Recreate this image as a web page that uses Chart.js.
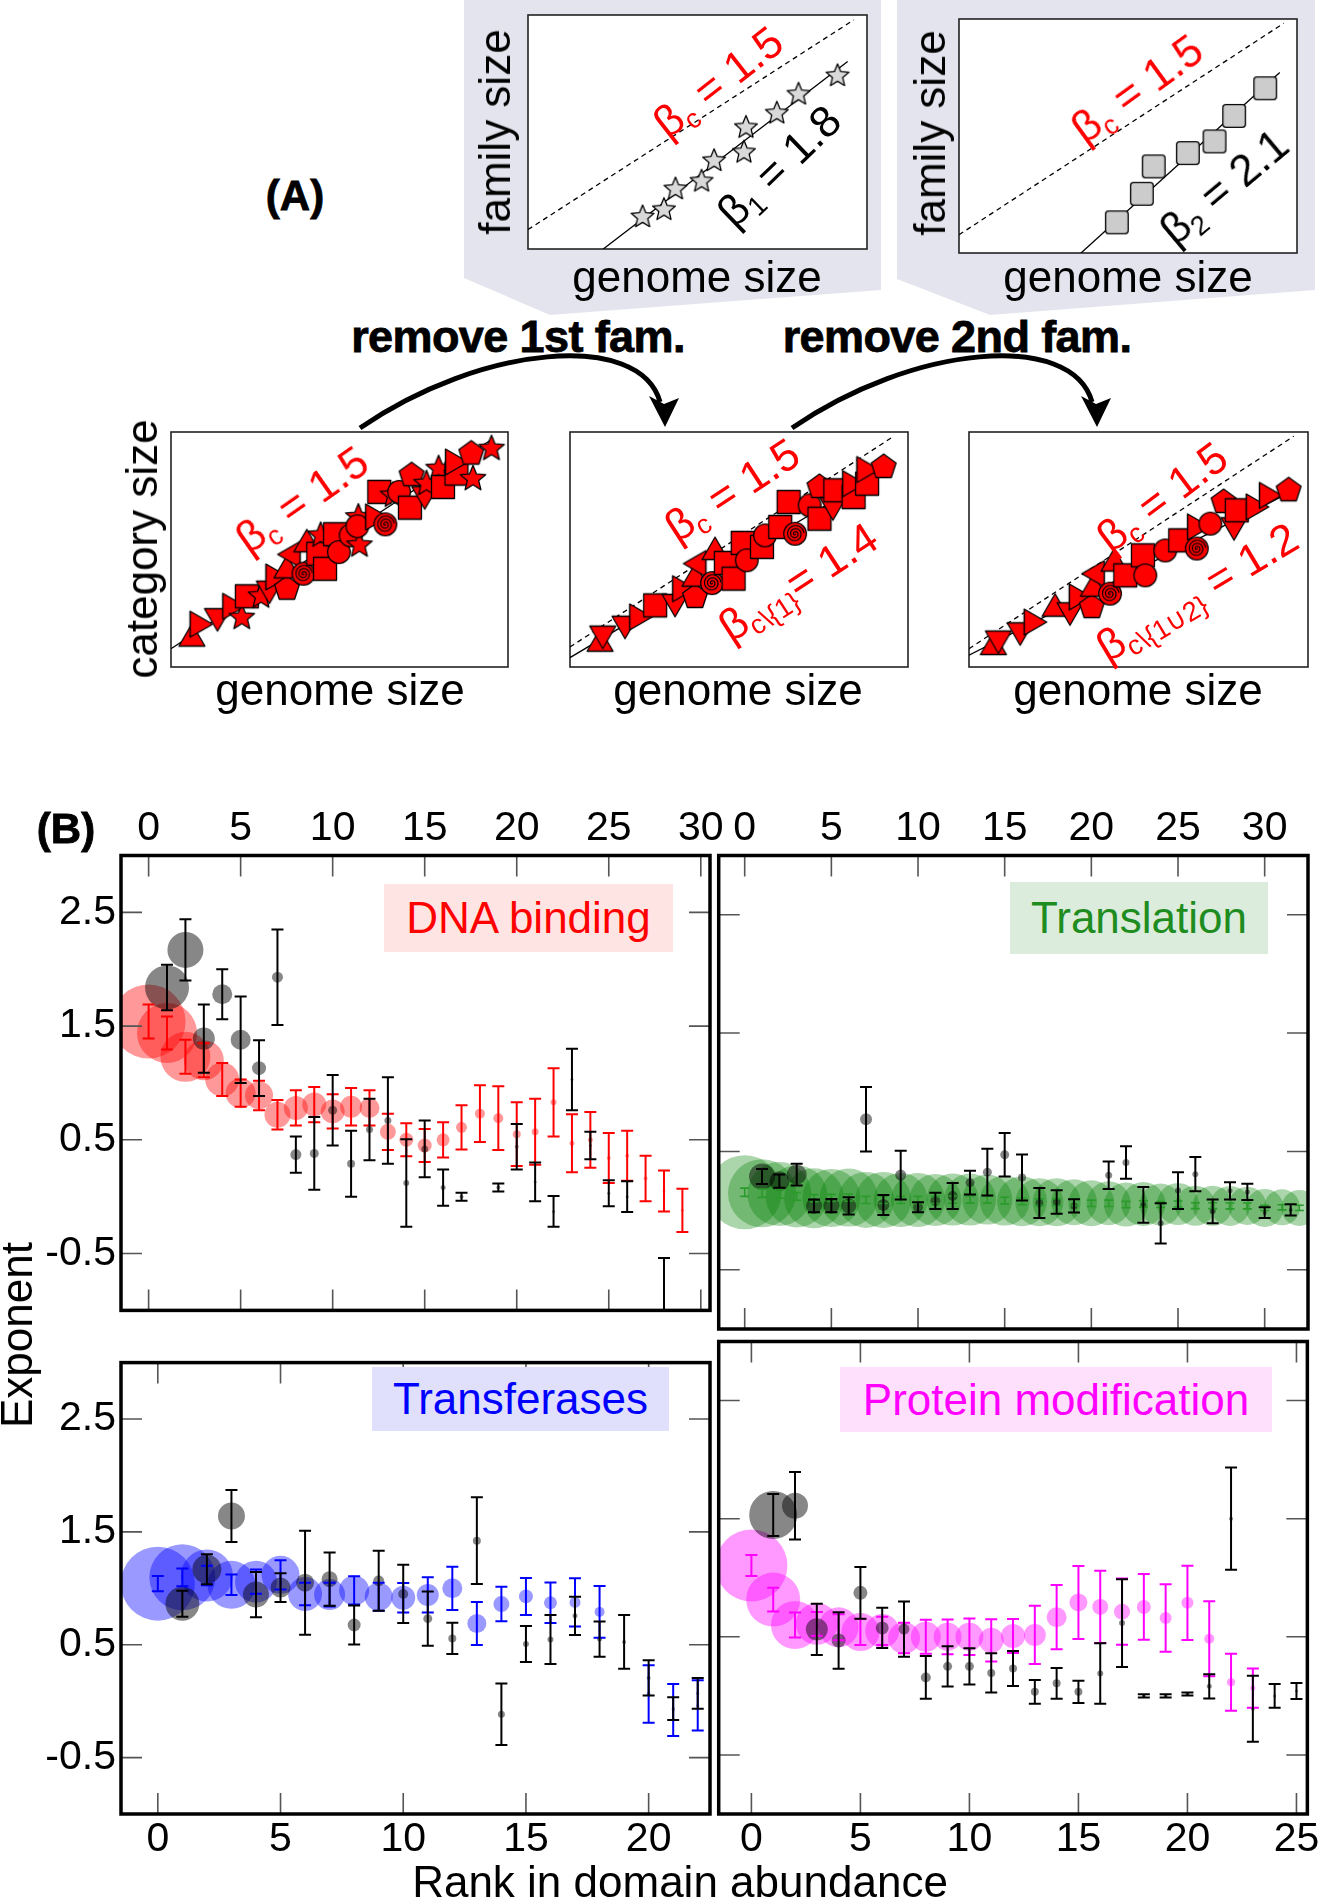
<!DOCTYPE html>
<html>
<head>
<meta charset="utf-8">
<script src="https://cdn.jsdelivr.net/npm/chart.js@4.4.1/dist/chart.umd.min.js"></script>
<style>
  body { margin: 0; background: #fff; }
  #page { position: relative; width: 1321px; height: 1900px; overflow: hidden;
          font-family: "Liberation Sans", Arial, sans-serif; }
  canvas { position: absolute; }
  .t { position: absolute; transform: translate(-50%, -50%); white-space: nowrap;
       line-height: 1; font-size: 44px; color: #000; }
  .b { font-weight: bold; }
  .heavy { font-weight: bold; -webkit-text-stroke: 0.8px #000; }
  .red { color: #ff0000; }
  sub { font-size: 0.62em; vertical-align: -0.28em; line-height: 0; }
  .box { position: absolute; display: flex; align-items: center; justify-content: center;
         font-size: 44px; line-height: 1; white-space: nowrap; }
</style>
</head>
<body>
<div id="page">
  <svg width="1321" height="1900" style="position:absolute;left:0;top:0">
    <polygon points="464,0 881,0 881,290 550,315 464,278" fill="#e4e4ee"/>
    <polygon points="897,0 1315,0 1315,290 990,315 897,279" fill="#e4e4ee"/>
    <path d="M360,428 C480,345 640,330 660,402" stroke="#000" stroke-width="5" fill="none"/>
    <polygon points="665,427 649,396 664,404 679,398" fill="#000"/>
    <path d="M792,428 C912,345 1072,330 1092,402" stroke="#000" stroke-width="5" fill="none"/>
    <polygon points="1097,427 1081,396 1096,404 1111,398" fill="#000"/>
  </svg>

  <canvas id="c1"></canvas><canvas id="c2"></canvas>
  <canvas id="p1"></canvas><canvas id="p2"></canvas><canvas id="p3"></canvas>
  <canvas id="bTL"></canvas><canvas id="bTR"></canvas>
  <canvas id="bBL"></canvas><canvas id="bBR"></canvas>

  <!-- panel A text -->
  <div class="t heavy" style="left:295px;top:196px;font-size:42px">(A)</div>
  <div class="t" style="left:495px;top:132px;transform:translate(-50%,-50%) rotate(-90deg)">family size</div>
  <div class="t" style="left:697px;top:277px">genome size</div>
  <div class="t red" style="left:718px;top:82px;transform:translate(-50%,-50%) rotate(-38deg)">β<sub>c</sub> = 1.5</div>
  <div class="t" style="left:779px;top:166px;transform:translate(-50%,-50%) rotate(-44deg)">β<sub>1</sub> = 1.8</div>
  <div class="t" style="left:930px;top:133px;transform:translate(-50%,-50%) rotate(-90deg)">family size</div>
  <div class="t" style="left:1128px;top:277px">genome size</div>
  <div class="t red" style="left:1137px;top:89px;transform:translate(-50%,-50%) rotate(-36deg)">β<sub>c</sub> = 1.5</div>
  <div class="t" style="left:1224px;top:187px;transform:translate(-50%,-50%) rotate(-40deg)">β<sub>2</sub> = 2.1</div>
  <div class="t heavy" style="left:518px;top:336px;font-size:45px;letter-spacing:-0.6px">remove 1st fam.</div>
  <div class="t heavy" style="left:957px;top:336px;font-size:45px;letter-spacing:-0.6px">remove 2nd fam.</div>
  <div class="t" style="left:142px;top:549px;transform:translate(-50%,-50%) rotate(-90deg)">category size</div>
  <div class="t" style="left:340px;top:690px">genome size</div>
  <div class="t red" style="left:302px;top:500px;transform:translate(-50%,-50%) rotate(-35deg)">β<sub>c</sub> = 1.5</div>
  <div class="t" style="left:738px;top:690px">genome size</div>
  <div class="t red" style="left:732px;top:490px;transform:translate(-50%,-50%) rotate(-33deg)">β<sub>c</sub> = 1.5</div>
  <div class="t red" style="left:798px;top:582px;transform:translate(-50%,-50%) rotate(-33deg)">β<sub>c\{1}</sub>= 1.4</div>
  <div class="t" style="left:1138px;top:690px">genome size</div>
  <div class="t red" style="left:1162px;top:497px;transform:translate(-50%,-50%) rotate(-37deg)">β<sub>c</sub> = 1.5</div>
  <div class="t red" style="left:1197px;top:592px;transform:translate(-50%,-50%) rotate(-31deg)">β<sub>c\{1∪2}</sub> = 1.2</div>

  <!-- panel B text -->
  <div class="t heavy" style="left:66px;top:829px;font-size:42px">(B)</div>
  <div class="t" style="left:17px;top:1335px;transform:translate(-50%,-50%) rotate(-90deg)">Exponent</div>
  <div class="t" style="left:680px;top:1882px">Rank in domain abundance</div>
  <div class="box" style="left:384px;top:884px;width:289px;height:68px;background:#ffe4e4;color:#ff0000">DNA binding</div>
  <div class="box" style="left:1010px;top:882px;width:258px;height:72px;background:#dcecdc;color:#1e8c1e">Translation</div>
  <div class="box" style="left:372px;top:1367px;width:297px;height:64px;background:#e0e0fc;color:#0000ff">Transferases</div>
  <div class="box" style="left:840px;top:1367px;width:432px;height:65px;background:#ffe0fc;color:#ff00ff">Protein modification</div>
</div>

<script>
// ---------- panel B: exponent vs rank in domain abundance ----------
const yLabelled = [2.5, 1.5, 0.5, -0.5];

// DNA binding: category (red) and single families (black)
const dnaRank = [0,1,2,3,4,5,6,7,8,9,10,11,12,13,14,15,16,17,18,19,20,21,22,23,24,25,26,27,28,29];
const dnaExp  = [1.54,1.44,1.23,1.20,1.03,0.91,0.89,0.72,0.78,0.81,0.75,0.79,0.78,0.57,0.50,0.45,0.50,0.61,0.73,0.69,0.55,0.57,0.83,0.47,0.50,0.34,0.36,0.16,0.05,-0.12];
const dnaErr  = [0.15,0.145,0.15,0.15,0.145,0.12,0.13,0.13,0.155,0.155,0.15,0.165,0.155,0.16,0.145,0.145,0.155,0.195,0.25,0.28,0.28,0.29,0.30,0.255,0.245,0.22,0.22,0.20,0.18,0.19];
const dnaSize = [37,30,25,20,17,15,14,13,12,12,12,11,10,8,7,7,6.5,5.5,5,5,4,3.5,3,2.5,2.5,2,2,2,1.5,1.5];
const dnaFamRank = [1,2,3,4,5,6,7,8,9,10,11,12,13,14,15,16,17,19,20,21,22,23,24,25,26,28];
const dnaFamExp  = [1.84,2.17,1.39,1.78,1.38,1.13,1.93,0.37,0.38,0.76,0.29,0.59,0.67,0.12,0.42,0.08,0.00,0.08,0.44,0.13,-0.13,1.03,0.45,0.03,0.00,-0.82];
const dnaFamErr  = [0.20,0.27,0.30,0.22,0.38,0.245,0.42,0.16,0.32,0.31,0.29,0.27,0.38,0.385,0.25,0.16,0.035,0.035,0.20,0.17,0.135,0.27,0.12,0.115,0.135,0.28];
const dnaFamSize = [22,18,11,10,10,7,5.5,5.5,4.5,4.5,4,3.5,3.5,3,3.5,2.5,2,2,2,1.5,1.5,1.5,1.5,1.5,1.5,1];

// Translation
const trnRank = [0,1,2,3,4,5,6,7,8,9,10,11,12,13,14,15,16,17,18,19,20,21,22,23,24,25,26,27,28,29,30,31,32];
const trnExp  = [0.155,0.147,0.141,0.12,0.105,0.107,0.11,0.09,0.09,0.09,0.09,0.09,0.093,0.093,0.093,0.085,0.079,0.071,0.071,0.071,0.062,0.062,0.051,0.056,0.051,0.056,0.042,0.042,0.04,0.04,0.023,0.028,0.023];
const trnErr  = [0.035,0.035,0.035,0.033,0.03,0.03,0.03,0.03,0.03,0.03,0.03,0.03,0.03,0.03,0.03,0.028,0.028,0.028,0.028,0.028,0.027,0.027,0.027,0.027,0.025,0.025,0.025,0.025,0.025,0.025,0.022,0.022,0.022];
const trnSize = [37,34,32,31,30,29,29,28,28,27,27,26,26,26,25,25,25,24,24,23,23,22,22,22,21,21,20,20,20,19,19,18,18];
const trnFamRank = [1,2,3,4,5,6,7,8,9,10,11,12,13,14,15,16,17,18,19,21,22,23,24,25,26,27,28,29,30,31.5];
const trnFamExp  = [0.288,0.249,0.305,0.04,0.042,0.04,0.772,0.048,0.30,0.028,0.082,0.124,0.237,0.325,0.472,0.28,0.065,0.073,0.04,0.299,0.407,0.048,-0.107,0.169,0.308,-0.006,0.167,0.158,-0.017,0.006];
const trnFamErr  = [0.064,0.056,0.092,0.054,0.056,0.073,0.272,0.085,0.205,0.042,0.069,0.11,0.10,0.198,0.184,0.195,0.127,0.10,0.056,0.117,0.137,0.151,0.17,0.155,0.144,0.10,0.073,0.068,0.045,0.047];
const trnFamSize = [13,10,10,8,8,7.5,6,6,5.5,5,5,5,4.5,4.5,4.5,4,4,4,3.5,3.5,3.5,3,3,3,3,3,2.5,2.5,2,2];

// Transferases
const tfRank = [0,1,2,3,4,5,6,7,8,9,10,11,12,13,14,15,16,17,18,20,21,22];
const tfExp  = [1.041,1.097,1.113,1.031,1.059,1.119,0.95,0.944,0.981,0.925,0.916,0.941,1.0,0.688,0.86,0.928,0.872,0.875,0.791,0.063,-0.078,-0.038];
const tfErr  = [0.067,0.078,0.086,0.091,0.108,0.13,0.10,0.106,0.125,0.125,0.13,0.156,0.192,0.19,0.153,0.164,0.18,0.214,0.23,0.255,0.23,0.223];
const tfSize = [37,33,26,24,21,19,17,15.5,15,14,12,11,10,9.5,8,7,6.5,5.5,5,2,1.5,1.5];
const tfFamRank = [1,2,3,4,5,6,7,8,9,10,11,12,13,14,15,16,17,18,19,20,21,22];
const tfFamExp  = [0.863,1.169,1.641,0.944,1.006,1.05,1.081,0.675,1.066,0.95,0.731,0.556,1.422,-0.116,0.506,0.547,0.756,0.55,0.525,0.206,-0.066,0.069];
const tfFamErr  = [0.116,0.133,0.231,0.2,0.128,0.461,0.236,0.172,0.266,0.258,0.24,0.139,0.384,0.272,0.16,0.217,0.169,0.156,0.239,0.156,0.10,0.136];
const tfFamSize = [17,14.5,13.5,13,10,9,8,6.5,5.5,5,4.5,4,4,3.5,3,3,2.5,2.5,2,2,1.5,1.5];

// Protein modification
const pmRank = [0,1,2,3,4,5,6,7,8,9,10,11,12,13,14,15,16,17,18,19,20,21,22,23];
const pmExp  = [1.103,0.815,0.60,0.61,0.58,0.54,0.55,0.49,0.50,0.50,0.50,0.47,0.506,0.516,0.666,0.791,0.753,0.713,0.753,0.659,0.788,0.484,0.116,0.066];
const pmErr  = [0.089,0.10,0.106,0.10,0.11,0.11,0.12,0.13,0.144,0.147,0.155,0.178,0.144,0.247,0.272,0.309,0.306,0.281,0.278,0.286,0.314,0.317,0.241,0.166];
const pmSize = [36,27,24,21,20,19,17,16,15,14,14,12.5,12,11,10,9,8,8,7,6,6,5,4,2.5];
const pmFamRank = [1,2,3,4,5,6,7,8,9,10,11,12,13,14,15,16,17,18,19,20,21,22,23,24,25];
const pmFamExp  = [1.531,1.609,0.563,0.469,0.872,0.575,0.566,0.156,0.25,0.25,0.194,0.231,0.034,0.106,0.034,0.19,0.616,0.0,0.0,0.016,0.081,1.5,-0.109,0.0,0.041];
const pmFamErr  = [0.178,0.286,0.217,0.239,0.22,0.17,0.234,0.181,0.17,0.153,0.166,0.148,0.10,0.131,0.094,0.256,0.372,0.013,0.013,0.013,0.103,0.433,0.28,0.10,0.067];
const pmFamSize = [24,13,11,7,7,6.5,5.5,5,4.5,4.5,4,4,4,4,4,3,3,2,2,2,2.5,2,2,1.5,1.5];

// ---------- panel A: schematic scaling plots (axes 0..100) ----------
const c1X = [33.8,40.1,43.5,51.2,54.9,63.7,64.3,73.4,79.8,91.3];
const c1Y = [13.7,16.8,25.6,28.9,37.7,41.3,51.9,58.0,66.1,74.0];
const c1Dashed = [0, 8.3, 96.1, 97.9];
const c1Fit = [22.2, 0, 94.3, 80.1];

const c2X = [46.7,54.1,57.6,67.7,75.6,81.4,90.6];
const c2Y = [13.1,25.3,37.0,42.7,47.7,58.6,70.4];
const c2Dashed = [0, 7.8, 96.1, 98.2];
const c2Fit = [36.1, 0, 94.9, 77.1];

const p1X = [6.2,7.9,13.8,17.6,21.0,22.5,26.7,29.2,30.4,34.4,34.4,36.1,39.3,40.3,43.7,44.4,45.7,48.7,49.8,53.3,55.6,55.9,55.3,60.0,63.6,61.8,65.9,67.7,70.9,71.4,75.3,75.8,79.4,80.7,84.7,83.7,89.1,89.6,95.1];
const p1Y = [12.1,18.2,21.6,25.8,21.0,30.1,30.1,33.3,38.3,33.3,41.1,47.9,39.7,52.2,48.2,56.0,41.8,56.5,48.9,56.0,63.8,51.8,59.9,63.8,60.7,74.5,73.0,74.5,67.8,81.6,73.5,78.0,84.4,76.6,82.3,87.2,90.8,80.1,92.9];
const p1Shape = ['triU','triR','triD','triR','star','rect','star','triD','triR','pent','triU','triL','spiral','triU','rect','star','rect','rect','circle','circle','star','star','circle','triR','spiral','rect','star','circle','rect','pent','triD','star','star','rect','rect','triR','pent','star','star'];
const p1Fit = [0, 7.8, 95.6, 97.2];

const p2X = [8.9,9.7,16.3,19.9,25.2,31.1,32.6,37.0,37.0,38.0,42.0,42.9,46.1,48.4,51.1,52.3,56.8,57.7,62.2,66.6,64.7,70.9,73.8,73.8,77.8,78.5,83.9,82.9,87.9,87.1,92.8];
const p2Y = [9.9,14.2,18.4,21.3,26.2,27.7,33.3,29.8,37.6,44.0,35.7,48.9,44.3,37.6,52.8,45.4,51.1,56.0,59.6,56.7,70.2,68.8,63.1,76.6,68.8,75.2,72.3,78.0,78.0,84.0,85.1];
const p2Shape = ['triU','triD','triD','triR','rect','triD','triR','pent','triU','triL','spiral','triU','rect','rect','rect','circle','rect','circle','rect','spiral','rect','circle','rect','pent','triD','rect','rect','triR','rect','triR','pent'];
const p2Dashed = [0, 8.5, 95.8, 98.2];
const p2Fit = [0, 4.0, 94.8, 85.1];

const p3X = [7.2,8.7,15.1,18.5,25.4,29.8,31.8,36.2,36.7,37.7,41.6,42.8,46.1,51.3,52.0,57.9,62.3,67.2,66.7,71.2,75.1,78.2,79.0,84.0,87.9,94.3];
const p3Y = [8.5,12.1,15.6,19.1,24.8,24.1,29.8,25.5,33.3,39.7,31.2,44.0,39.0,47.5,39.0,49.6,53.9,50.4,59.6,61.0,70.2,60.3,66.7,68.1,73.0,75.2];
const p3Shape = ['triU','triD','triD','triR','triU','triD','triR','pent','triU','triL','spiral','triU','rect','rect','circle','circle','rect','spiral','triR','circle','pent','triD','rect','triR','triR','pent'];
const p3Dashed = [0, 7.8, 95.8, 98.2];
const p3Fit = [0, 5.0, 96.8, 75.9];

// ---------- marker glyphs ----------
function glyph(size, draw) {
    const c = document.createElement('canvas');
    c.width = size; c.height = size;
    const g = c.getContext('2d');
    g.translate(size / 2, size / 2);
    g.lineWidth = 1.3; g.strokeStyle = '#000'; g.lineJoin = 'round';
    draw(g);
    return c;
}
function starPath(g, R, r) {
    g.beginPath();
    for (let k = 0; k < 10; k++) {
        const rr = k % 2 ? r : R, a = -Math.PI / 2 + k * Math.PI / 5;
        g.lineTo(rr * Math.cos(a), rr * Math.sin(a));
    }
    g.closePath();
}
function polyPath(g, n, R) {
    g.beginPath();
    for (let k = 0; k < n; k++) {
        const a = -Math.PI / 2 + k * 2 * Math.PI / n;
        g.lineTo(R * Math.cos(a), R * Math.sin(a));
    }
    g.closePath();
}
const RED = '#ff0000';
const glyphs = {
    star: glyph(32, g => { starPath(g, 13.5, 6); g.fillStyle = RED; g.fill(); g.stroke(); }),
    greyStar: glyph(30, g => { starPath(g, 12, 5.4); g.fillStyle = '#d9d9d9'; g.fill(); g.stroke(); }),
    rect: glyph(28, g => { g.beginPath(); g.rect(-11.5, -11.5, 23, 23); g.fillStyle = RED; g.fill(); g.stroke(); }),
    greySquare: glyph(28, g => { g.beginPath(); g.roundRect(-11.3, -11.3, 22.6, 22.6, 3); g.fillStyle = '#cccccc'; g.fill(); g.stroke(); }),
    circle: glyph(28, g => { g.beginPath(); g.arc(0, 0, 11.3, 0, 2 * Math.PI); g.fillStyle = RED; g.fill(); g.stroke(); }),
    pent: glyph(30, g => { polyPath(g, 5, 13); g.fillStyle = RED; g.fill(); g.stroke(); }),
    tri: glyph(34, g => { polyPath(g, 3, 15); g.fillStyle = RED; g.fill(); g.stroke(); }),
    spiral: glyph(28, g => {
        g.beginPath(); g.arc(0, 0, 11.3, 0, 2 * Math.PI); g.fillStyle = RED; g.fill(); g.stroke();
        g.beginPath();
        for (let t = 0; t <= 6 * Math.PI; t += 0.15) {
            const rr = t / (6 * Math.PI) * 9;
            g.lineTo(rr * Math.cos(t), rr * Math.sin(t));
        }
        g.lineWidth = 1.2; g.stroke();
    }),
};
const shapeGlyph = { triU: 'tri', triR: 'tri', triD: 'tri', triL: 'tri' };
const shapeTurn = { triU: 0, triR: 90, triD: 180, triL: 270 };

// ---------- plugins ----------
const schematicFrame = {
    id: 'schematicFrame',
    beforeDatasetsDraw(chart) {
        const { ctx, chartArea: a } = chart;
        ctx.save();
        ctx.fillStyle = '#fff';
        ctx.fillRect(a.left, a.top, a.width, a.height);
        ctx.strokeStyle = '#222'; ctx.lineWidth = 1.6;
        ctx.strokeRect(a.left, a.top, a.width, a.height);
        ctx.restore();
    },
};

const errorBars = {
    id: 'errorBars',
    afterDatasetsDraw(chart) {
        const { ctx, chartArea: a, scales: { y } } = chart;
        ctx.save();
        ctx.beginPath(); ctx.rect(a.left, a.top, a.width, a.height); ctx.clip();
        chart.data.datasets.forEach((ds, i) => {
            if (!ds.errors) return;
            const meta = chart.getDatasetMeta(i);
            ctx.strokeStyle = ds.errColor; ctx.lineWidth = ds.errWidth;
            meta.data.forEach((pt, j) => {
                const v = ds.data[j].y, e = ds.errors[j], hw = ds.capHalf;
                const y1 = y.getPixelForValue(v - e), y2 = y.getPixelForValue(v + e);
                ctx.beginPath();
                ctx.moveTo(pt.x, y1); ctx.lineTo(pt.x, y2);
                ctx.moveTo(pt.x - hw, y1); ctx.lineTo(pt.x + hw, y1);
                ctx.moveTo(pt.x - hw, y2); ctx.lineTo(pt.x + hw, y2);
                ctx.stroke();
            });
        });
        ctx.restore();
    },
};

const frameTicks = {
    id: 'frameTicks',
    afterDraw(chart) {
        const { ctx, chartArea: a, scales: { x, y } } = chart;
        ctx.save();
        ctx.strokeStyle = '#555'; ctx.lineWidth = 1.6;
        ctx.beginPath();
        x.ticks.forEach(t => {
            if (t.value <= x.min || t.value >= x.max) return;
            const px = x.getPixelForValue(t.value);
            ctx.moveTo(px, a.top); ctx.lineTo(px, a.top + 21);
            ctx.moveTo(px, a.bottom); ctx.lineTo(px, a.bottom - 21);
        });
        y.ticks.forEach(t => {
            if (t.value <= y.min || t.value >= y.max) return;
            const py = y.getPixelForValue(t.value);
            ctx.moveTo(a.left, py); ctx.lineTo(a.left + 21, py);
            ctx.moveTo(a.right, py); ctx.lineTo(a.right - 21, py);
        });
        ctx.stroke();
        ctx.strokeStyle = '#000'; ctx.lineWidth = 3.5;
        ctx.strokeRect(a.left, a.top, a.width, a.height);
        ctx.restore();
    },
};

// ---------- builders ----------
function place(id, left, top, w, h) {
    const c = document.getElementById(id);
    c.width = w; c.height = h;
    c.style.left = left + 'px'; c.style.top = top + 'px';
    return c;
}

function segment(pts, dashed) {
    return {
        type: 'line',
        data: [{ x: pts[0], y: pts[1] }, { x: pts[2], y: pts[3] }],
        borderColor: '#000', borderWidth: 1.3, borderDash: dashed ? [5, 4] : [],
        pointRadius: 0, order: 2,
    };
}

function schematic(id, frame, xs, ys, shapes, fit, dashed) {
    const M = 16;
    const cv = place(id, frame[0] - M, frame[1] - M, frame[2] + 2 * M, frame[3] + 2 * M);
    const datasets = [];
    if (dashed) datasets.push(segment(dashed, true));
    datasets.push(segment(fit, false));
    datasets.push({
        type: 'scatter',
        data: xs.map((x, i) => ({ x, y: ys[i] })),
        pointStyle: shapes.map(s => glyphs[shapeGlyph[s] || s]),
        pointRotation: shapes.map(s => shapeTurn[s] || 0),
        pointRadius: 10,
        clip: false,
        order: 1,
    });
    new Chart(cv, {
        type: 'scatter',
        data: { datasets },
        options: {
            responsive: false, animation: false, events: [],
            layout: { padding: M, autoPadding: false },
            plugins: { legend: { display: false }, tooltip: { enabled: false } },
            scales: {
                x: { display: false, min: 0, max: 100 },
                y: { display: false, min: 0, max: 100 },
            },
        },
        plugins: [schematicFrame],
    });
}

function bubbles(rank, exp, size) {
    return rank.map((x, i) => ({ x, y: exp[i], r: size[i] }));
}

const tickFont = { family: '"Liberation Sans", Arial, sans-serif', size: 41 };

function rankPanel(p) {
    const cv = place(p.id, p.left, p.top, p.w, p.h);
    new Chart(cv, {
        type: 'bubble',
        data: {
            datasets: [
                {
                    data: bubbles(p.cat[0], p.cat[1], p.cat[3]), errors: p.cat[2],
                    backgroundColor: p.fill, borderWidth: 0, hoverRadius: 0,
                    errColor: p.line, errWidth: p.errWidth || 2, capHalf: p.capHalf || 6,
                    clip: 0, order: 2,
                },
                {
                    data: bubbles(p.fam[0], p.fam[1], p.fam[3]), errors: p.fam[2],
                    backgroundColor: 'rgba(0,0,0,0.47)', borderWidth: 0, hoverRadius: 0,
                    errColor: '#000', errWidth: 2, capHalf: 6,
                    clip: 0, order: 1,
                },
            ],
        },
        options: {
            responsive: false, animation: false, events: [],
            layout: { padding: p.pad, autoPadding: false },
            plugins: { legend: { display: false }, tooltip: { enabled: false } },
            scales: {
                x: {
                    type: 'linear', position: p.xPos, min: -1.5, max: p.xMax,
                    grid: { display: false, drawTicks: false }, border: { display: false },
                    ticks: { stepSize: 5, includeBounds: false, autoSkip: false, maxRotation: 0,
                             font: tickFont, color: '#000', padding: p.xPad },
                    afterFit: s => { s.height = p.xH; },
                },
                y: {
                    type: 'linear', min: -1, max: 3,
                    grid: { display: false, drawTicks: false }, border: { display: false },
                    ticks: { stepSize: 0.5, includeBounds: false, autoSkip: false, display: p.yLabels,
                             font: tickFont, color: '#000', padding: 5,
                             callback: v => (yLabelled.includes(v) ? v.toFixed(1) : null) },
                    afterFit: s => { s.width = p.yW; },
                },
            },
        },
        plugins: [errorBars, frameTicks],
    });
}

// ---------- draw ----------
schematic('c1', [528, 15, 339, 234], c1X, c1Y, c1X.map(() => 'greyStar'), c1Fit, c1Dashed);
schematic('c2', [959, 19, 338, 234], c2X, c2Y, c2X.map(() => 'greySquare'), c2Fit, c2Dashed);
schematic('p1', [171, 432, 337, 235], p1X, p1Y, p1Shape, p1Fit, null);
schematic('p2', [570, 432, 338, 235], p2X, p2Y, p2Shape, p2Fit, p2Dashed);
schematic('p3', [969, 432, 339, 235], p3X, p3Y, p3Shape, p3Fit, p3Dashed);

rankPanel({ id: 'bTL', left: 0, top: 780, w: 730, h: 560, pad: { left: 0, right: 20, top: 0, bottom: 11 },
    yW: 121, yLabels: true, xPos: 'top', xH: 75.5, xPad: 2, xMax: 30.5,
    fill: 'rgba(255,0,0,0.4)', line: '#ff0000',
    cat: [dnaRank, dnaExp, dnaErr, dnaSize], fam: [dnaFamRank, dnaFamExp, dnaFamErr, dnaFamSize] });
rankPanel({ id: 'bTR', left: 705, top: 780, w: 616, h: 560, pad: { left: 0, right: 13, top: 0, bottom: 11 },
    yW: 13.7, yLabels: false, xPos: 'top', xH: 75.5, xPad: 2, xMax: 32.5,
    fill: 'rgba(0,128,0,0.33)', line: '#2a9a2a', errWidth: 1.6, capHalf: 4.5,
    cat: [trnRank, trnExp, trnErr, trnSize], fam: [trnFamRank, trnFamExp, trnFamErr, trnFamSize] });
rankPanel({ id: 'bBL', left: 0, top: 1333, w: 730, h: 567, pad: { left: 0, right: 20, top: 8.5, bottom: 0 },
    yW: 121, yLabels: true, xPos: 'bottom', xH: 86, xPad: 1.5, xMax: 22.5,
    fill: 'rgba(0,0,255,0.4)', line: '#0000ff',
    cat: [tfRank, tfExp, tfErr, tfSize], fam: [tfFamRank, tfFamExp, tfFamErr, tfFamSize] });
rankPanel({ id: 'bBR', left: 705, top: 1333, w: 616, h: 567, pad: { left: 0, right: 13, top: 8.5, bottom: 0 },
    yW: 13.7, yLabels: false, xPos: 'bottom', xH: 86, xPad: 1.5, xMax: 25.5,
    fill: 'rgba(255,0,255,0.4)', line: '#ff00ff',
    cat: [pmRank, pmExp, pmErr, pmSize], fam: [pmFamRank, pmFamExp, pmFamErr, pmFamSize] });
</script>
</body>
</html>
